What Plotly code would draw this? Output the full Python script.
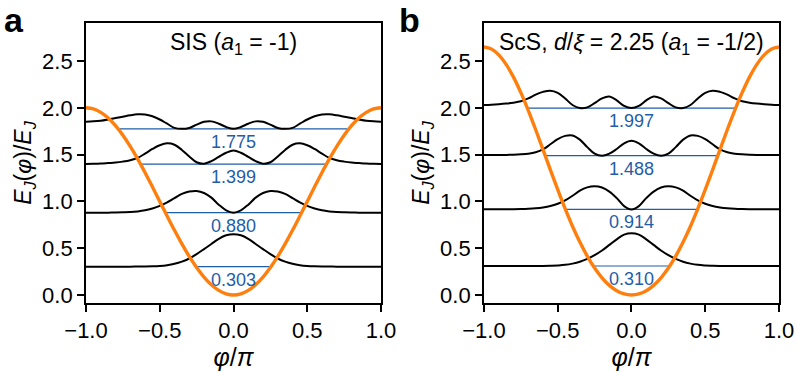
import plotly.graph_objects as go

# phase grid phi/pi, step 0.05
phi = [round(-1 + 0.05 * i, 2) for i in range(41)]

# panel a: SIS junction
pot_a = [2.0, 1.988, 1.951, 1.891, 1.809, 1.707, 1.588, 1.454, 1.309, 1.156, 1.0, 0.844, 0.691, 0.546, 0.412, 0.293, 0.191, 0.109, 0.049, 0.012,
         0.0,
         0.012, 0.049, 0.109, 0.191, 0.293, 0.412, 0.546, 0.691, 0.844, 1.0, 1.156, 1.309, 1.454, 1.588, 1.707, 1.809, 1.891, 1.951, 1.988, 2.0]
psi_a0 = [0.303, 0.303, 0.303, 0.303, 0.303, 0.303, 0.303, 0.304, 0.305, 0.307, 0.311, 0.319, 0.333, 0.356, 0.390, 0.437, 0.490, 0.545, 0.600, 0.638,
          0.650,
          0.638, 0.600, 0.545, 0.490, 0.437, 0.390, 0.356, 0.333, 0.319, 0.311, 0.307, 0.305, 0.304, 0.303, 0.303, 0.303, 0.303, 0.303, 0.303, 0.303]
psi_a1 = [0.880, 0.880, 0.880, 0.880, 0.881, 0.883, 0.886, 0.893, 0.905, 0.925, 0.952, 0.990, 1.035, 1.080, 1.105, 1.111, 1.090, 1.040, 0.965, 0.905,
          0.880,
          0.905, 0.965, 1.040, 1.090, 1.111, 1.105, 1.080, 1.035, 0.990, 0.952, 0.925, 0.905, 0.893, 0.886, 0.883, 0.881, 0.880, 0.880, 0.880, 0.880]
psi_a2 = [1.400, 1.402, 1.405, 1.410, 1.415, 1.425, 1.440, 1.465, 1.510, 1.560, 1.600, 1.620, 1.605, 1.550, 1.480, 1.418, 1.403, 1.430, 1.475, 1.520,
          1.545,
          1.520, 1.475, 1.430, 1.403, 1.418, 1.480, 1.550, 1.605, 1.620, 1.600, 1.560, 1.510, 1.465, 1.440, 1.425, 1.415, 1.410, 1.405, 1.402, 1.400]
psi_a3 = [1.852, 1.855, 1.862, 1.875, 1.890, 1.905, 1.920, 1.930, 1.928, 1.910, 1.875, 1.830, 1.785, 1.775, 1.785, 1.820, 1.850, 1.855, 1.830, 1.795,
          1.775,
          1.795, 1.830, 1.855, 1.850, 1.820, 1.785, 1.775, 1.785, 1.830, 1.875, 1.910, 1.928, 1.930, 1.920, 1.905, 1.890, 1.875, 1.862, 1.855, 1.852]
levels_a = [0.303, 0.880, 1.399, 1.775]
labels_a = ['0.303', '0.880', '1.399', '1.775']
turn_a = [0.255, 0.462, 0.632, 0.77]

# panel b: ScS junction
pot_b = [2.650, 2.629, 2.566, 2.464, 2.328, 2.162, 1.973, 1.768, 1.554, 1.337, 1.125, 0.923, 0.735, 0.565, 0.415, 0.288, 0.184, 0.103, 0.046, 0.011,
         0.0,
         0.011, 0.046, 0.103, 0.184, 0.288, 0.415, 0.565, 0.735, 0.923, 1.125, 1.337, 1.554, 1.768, 1.973, 2.162, 2.328, 2.464, 2.566, 2.629, 2.650]
psi_b0 = [0.310, 0.310, 0.310, 0.310, 0.310, 0.310, 0.310, 0.310, 0.311, 0.313, 0.316, 0.322, 0.335, 0.355, 0.385, 0.425, 0.475, 0.535, 0.595, 0.645,
          0.660,
          0.645, 0.595, 0.535, 0.475, 0.425, 0.385, 0.355, 0.335, 0.322, 0.316, 0.313, 0.311, 0.310, 0.310, 0.310, 0.310, 0.310, 0.310, 0.310, 0.310]
psi_b1 = [0.915, 0.915, 0.915, 0.915, 0.916, 0.918, 0.921, 0.926, 0.935, 0.950, 0.975, 1.010, 1.060, 1.115, 1.150, 1.162, 1.148, 1.105, 1.035, 0.950,
          0.914,
          0.950, 1.035, 1.105, 1.148, 1.162, 1.150, 1.115, 1.060, 1.010, 0.975, 0.950, 0.935, 0.926, 0.921, 0.918, 0.916, 0.915, 0.915, 0.915, 0.915]
psi_b2 = [1.496, 1.496, 1.496, 1.497, 1.499, 1.503, 1.510, 1.525, 1.555, 1.610, 1.665, 1.700, 1.705, 1.660, 1.580, 1.510, 1.487, 1.510, 1.560, 1.620,
          1.648,
          1.620, 1.560, 1.510, 1.487, 1.510, 1.580, 1.660, 1.705, 1.700, 1.665, 1.610, 1.555, 1.525, 1.510, 1.503, 1.499, 1.497, 1.496, 1.496, 1.496]
psi_b3 = [2.030, 2.033, 2.038, 2.045, 2.055, 2.070, 2.100, 2.140, 2.170, 2.183, 2.160, 2.100, 2.030, 1.998, 2.005, 2.050, 2.100, 2.120, 2.080, 2.020,
          1.997,
          2.020, 2.080, 2.120, 2.100, 2.050, 2.005, 1.998, 2.030, 2.100, 2.160, 2.183, 2.170, 2.140, 2.100, 2.070, 2.055, 2.045, 2.038, 2.033, 2.030]
levels_b = [0.310, 0.914, 1.488, 1.997]
labels_b = ['0.310', '0.914', '1.488', '1.997']
turn_b = [0.258, 0.445, 0.59, 0.712]

FONT = 'Liberation Sans, Arial, sans-serif'
BLUE = '#1f5ea8'
ORANGE = '#ff7f0e'

fig = go.Figure()
annotations = []


def add_panel(n, pot, psis, levels, labels, turns, title):
    xa = 'x' if n == 1 else 'x2'
    ya = 'y' if n == 1 else 'y2'
    # blue energy levels between turning points
    for e, t in zip(levels, turns):
        fig.add_trace(go.Scatter(x=[-t, t], y=[e, e], mode='lines', xaxis=xa, yaxis=ya,
                                 line=dict(color=BLUE, width=1.2), hoverinfo='skip', showlegend=False))
    # wavefunctions
    for psi in psis:
        fig.add_trace(go.Scatter(x=phi, y=psi, mode='lines', xaxis=xa, yaxis=ya,
                                 line=dict(color='black', width=2, shape='spline'),
                                 hoverinfo='skip', showlegend=False))
    # potential
    fig.add_trace(go.Scatter(x=phi, y=pot, mode='lines', xaxis=xa, yaxis=ya,
                             line=dict(color=ORANGE, width=3.4, shape='spline'),
                             hoverinfo='skip', showlegend=False))
    for e, lab in zip(levels, labels):
        annotations.append(dict(x=0, y=e, xref=xa, yref=ya, text=lab, showarrow=False,
                                yanchor='top', yshift=-1, font=dict(size=18, color=BLUE, family=FONT)))
    annotations.append(dict(x=0, y=2.69, xref=xa, yref=ya, text=title, showarrow=False,
                            yanchor='middle', font=dict(size=23, color='black', family=FONT)))


add_panel(1, pot_a, [psi_a0, psi_a1, psi_a2, psi_a3], levels_a, labels_a, turn_a,
          'SIS (<i>a</i><sub>1</sub> = -1)')
add_panel(2, pot_b, [psi_b0, psi_b1, psi_b2, psi_b3], levels_b, labels_b, turn_b,
          'ScS, <i>d</i>/<i>ξ</i> = 2.25 (<i>a</i><sub>1</sub> = -1/2)')

# panel letters
annotations.append(dict(x=-0.121, y=1.012, xref='paper', yref='paper', text='<b>a</b>', showarrow=False,
                        xanchor='left', yanchor='middle', font=dict(size=34, color='black', family=FONT)))
annotations.append(dict(x=0.449, y=1.012, xref='paper', yref='paper', text='<b>b</b>', showarrow=False,
                        xanchor='left', yanchor='middle', font=dict(size=34, color='black', family=FONT)))

xaxis_style = dict(range=[-1, 1], tickvals=[-1, -0.5, 0, 0.5, 1],
                   ticktext=['\u22121.0', '\u22120.5', '0.0', '0.5', '1.0'],
                   showline=True, mirror=True, linecolor='black', linewidth=1.8,
                   ticks='outside', ticklen=7, tickwidth=1.5, tickcolor='black', automargin=False,
                   showgrid=False, zeroline=False, tickfont=dict(size=22, color='black', family=FONT),
                   title=dict(text='<i>φ</i>/<i>π</i>', font=dict(size=25, color='black', family=FONT), standoff=2))
yaxis_style = dict(range=[-0.0855, 2.906], tickvals=[0, 0.5, 1, 1.5, 2, 2.5],
                   ticktext=['0.0', '0.5', '1.0', '1.5', '2.0', '2.5'],
                   showline=True, mirror=True, linecolor='black', linewidth=1.8,
                   ticks='outside', ticklen=7, tickwidth=1.5, tickcolor='black', automargin=False,
                   showgrid=False, zeroline=False, tickfont=dict(size=22, color='black', family=FONT),
                   title=dict(text='<i>E</i><sub><i>J</i></sub>(<i>φ</i>)/<i>E</i><sub><i>J</i></sub>',
                              font=dict(size=23, color='black', family=FONT), standoff=4))

fig.update_layout(
    width=798, height=372,
    margin=dict(l=86, r=19, t=23, b=69),
    paper_bgcolor='white', plot_bgcolor='white',
    xaxis=dict(domain=[0, 0.4257], anchor='y', **xaxis_style),
    yaxis=dict(domain=[0, 1], anchor='x', **yaxis_style),
    xaxis2=dict(domain=[0.5743, 1], anchor='y2', **xaxis_style),
    yaxis2=dict(domain=[0, 1], anchor='x2', **yaxis_style),
    annotations=annotations,
    font=dict(family=FONT),
)

# the page body has a default 8px margin; drop it so the figure fills the window
fig.write_html("out.html", config={'displayModeBar': False},
               post_script="document.body.style.margin='0';")
